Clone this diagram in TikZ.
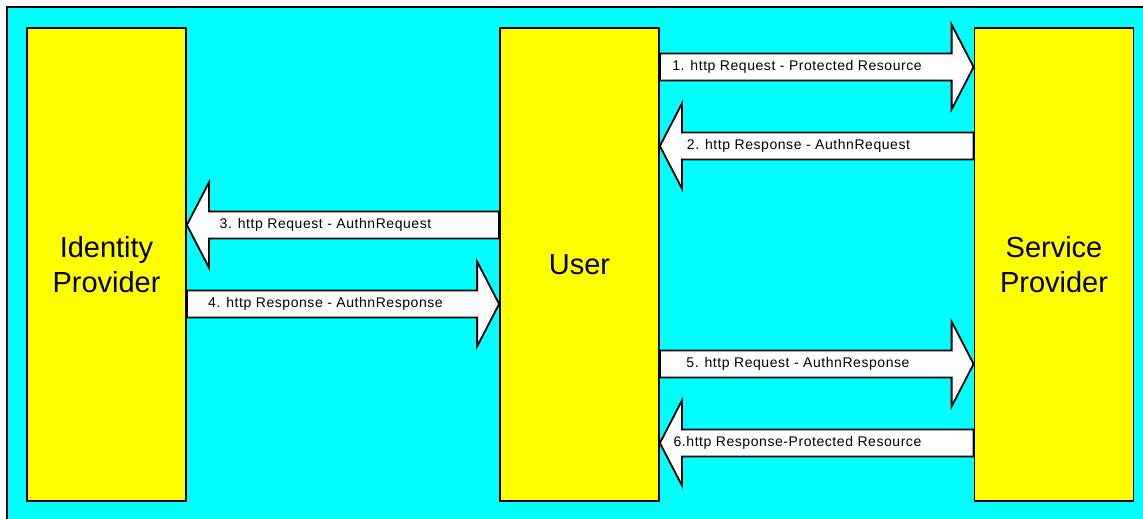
\documentclass[tikz,border=0pt]{standalone}
\usepackage{fontspec}
\setmainfont{Liberation Sans}
\newfontfamily\lblfont[LetterSpace=4]{Liberation Sans}
\usetikzlibrary{calc}
\definecolor{bgcyan}{HTML}{00FFFF}
\definecolor{boxyellow}{HTML}{FFFF00}
\tikzset{
  box/.style={draw=black, line width=1.8pt, fill=boxyellow, minimum width=159pt,
    minimum height=473pt, inner sep=0pt, align=center,
    font=\fontsize{29}{35}\selectfont},
  barrow/.style={draw=black, line width=1.8pt, fill=white, line join=miter},
  lbl/.style={inner sep=0pt, font=\lblfont\fontsize{14}{16}\selectfont}
}
% #1 tail coordinate, #2 tip coordinate, #3 signed head length (pt)
\newcommand{\BArrow}[3]{%
  \draw[barrow] let \p1=(#1), \p2=(#2) in
    (\x1,\y1+13.5pt) -- (\x2-#3,\y1+13.5pt) -- (\x2-#3,\y1+42.5pt) -- (\x2,\y2)
    -- (\x2-#3,\y1-42.5pt) -- (\x2-#3,\y1-13.5pt) -- (\x1,\y1-13.5pt) -- cycle;}
\begin{document}
\begin{tikzpicture}[x=1pt,y=-1pt]
\useasboundingbox (0,0) rectangle (1143,519);
\fill[white] (0,0) rectangle (1143,519);
\begin{scope}
\clip (0,0) rectangle (1143,519);
\draw[line width=2pt, fill=bgcyan] (7,7) rectangle (1160,540);
\end{scope}

\node[box] (idp) at (106.5,264.5) {Identity\\Provider};
\node[box] (user) at (579.5,264.5) {User};
\node[box] (sp) at (1054,264.5) {Service\\Provider};

% anchor coordinates for the block arrows
\coordinate (u1) at (user.east |- 0,67);  \coordinate (s1) at (sp.west |- 0,67);
\coordinate (s2) at (sp.west |- 0,146);   \coordinate (u2) at (user.east |- 0,146);
\coordinate (u3) at (user.west |- 0,225); \coordinate (i3) at (idp.east |- 0,225);
\coordinate (i4) at (idp.east |- 0,304);  \coordinate (u4) at (user.west |- 0,304);
\coordinate (u5) at (user.east |- 0,364); \coordinate (s5) at (sp.west |- 0,364);
\coordinate (s6) at (sp.west |- 0,443);   \coordinate (u6) at (user.east |- 0,443);

\BArrow{u1}{s1}{22pt}
\BArrow{s2}{u2}{-22pt}
\BArrow{u3}{i3}{-22pt}
\BArrow{i4}{u4}{22pt}
\BArrow{u5}{s5}{22pt}
\BArrow{s6}{u6}{-22pt}

\node[lbl] (l1) at (797,67) {1. http Request - Protected Resource};
\node[lbl] (l2) at (798.5,146) {2. http Response - AuthnRequest};
\node[lbl] (l3) at (325.5,225) {3. http Request - AuthnRequest};
\node[lbl] (l4) at (325.5,304) {4. http Response - AuthnResponse};
\node[lbl] (l5) at (798,364) {5. http Request - AuthnResponse};
\node[lbl] (l6) at (797.5,443) {6.http Response-Protected Resource};
\end{tikzpicture}
\end{document}
